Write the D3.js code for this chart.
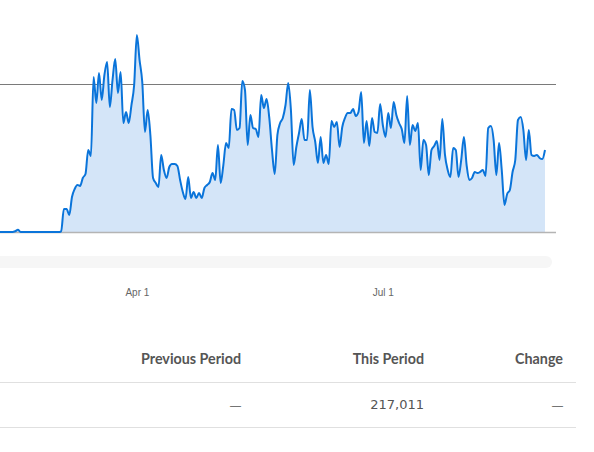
<!DOCTYPE html>
<html>
<head>
<meta charset="utf-8">
<script src="https://cdn.jsdelivr.net/npm/d3@7/dist/d3.min.js"></script>
<style>
  html, body { margin: 0; padding: 0; background: #fff; }
  svg { display: block; }
</style>
</head>
<body>
<svg id="chart" width="594" height="452"></svg>
<script>
// daily visits, one value per day starting at startDay
var startDay = new Date(2020, 1, 10);
var visits = [
  0, 0, 0, 0, 0, 0, 10, 30, 0, 0,
  0, 0, 0, 0, 0, 0, 0, 0, 0, 0,
  0, 0, 0, 10, 311, 311, 230, 473, 581, 635,
  622, 730, 784, 1108, 1027, 2095, 1743, 2149, 1784, 2122,
  2297, 1689, 2054, 2338, 1878, 2162, 1473, 1622, 1473, 1716,
  1987, 2662, 2324, 2027, 1351, 1649, 1311, 730, 662, 608,
  1041, 838, 730, 878, 919, 919, 892, 703, 541, 446,
  743, 459, 541, 459, 527, 459, 595, 635, 676, 797,
  703, 1176, 662, 905, 1203, 1135, 1662, 1649, 1378, 1405,
  2041, 1919, 1176, 1581, 1405, 1392, 1284, 1851, 1676, 1797,
  1541, 1108, 784, 1311, 1473, 1541, 1716, 2014, 1649, 905,
  1149, 1338, 1527, 1243, 1243, 1919, 1419, 1216, 932, 1284,
  932, 1041, 919, 1500, 1419, 1486, 1149, 1419, 1541, 1608,
  1608, 1662, 1568, 1622, 1892, 1203, 1500, 1162, 1541, 1351,
  1338, 1730, 1446, 1284, 1608, 1405, 1757, 1581, 1473, 1392,
  1203, 1838, 1176, 1446, 1365, 1473, 838, 1243, 1176, 770,
  1108, 1162, 1230, 973, 1527, 1041, 838, 743, 1135, 1108,
  743, 973, 1284, 905, 703, 730, 811, 797, 811, 838,
  757, 1405, 1432, 1243, 770, 1203, 838, 365, 514, 568,
  811, 973, 1514, 1554, 1378, 973, 1378, 1041, 1027, 1041,
  1000, 986, 1108
];
var gridValues = [2000];
var tickDates = [new Date(2020, 3, 1), new Date(2020, 6, 1)];

var columns = ["Previous Period", "This Period", "Change"];
var rowValues = ["\u2014", "217,011", "\u2014"];
var columnRight = [241, 424, 563];

var data = visits.map(function(v, i){
  return {date: d3.timeDay.offset(startDay, i), value: v};
});

var svg = d3.select("#chart");

var plotTop = 84, plotBottom = 232, plotRight = 556;

var xScale = d3.scaleTime()
  .domain(d3.extent(data, function(d){ return d.date; }))
  .range([-1, 545]);

var yScale = d3.scaleLinear()
  .domain([0, 2000])
  .range([plotBottom, plotTop]);

// gridline
var grid = svg.append("g")
  .call(d3.axisRight(yScale).tickValues(gridValues).tickSize(plotRight).tickFormat(""));
grid.select(".domain").remove();
grid.selectAll(".tick line").attr("stroke", "#7a7a7a").attr("stroke-width", 1);

var area = d3.area()
  .curve(d3.curveMonotoneX)
  .x(function(d){ return xScale(d.date); })
  .y0(yScale(0))
  .y1(function(d){ return yScale(d.value); });

var line = d3.line()
  .curve(d3.curveMonotoneX)
  .x(function(d){ return xScale(d.date); })
  .y(function(d){ return yScale(d.value); });

svg.append("path")
  .datum(data)
  .attr("d", area)
  .attr("fill", "#d4e5f8");

// baseline
svg.append("line")
  .attr("x1", 0).attr("x2", plotRight)
  .attr("y1", yScale(0) + 0.5).attr("y2", yScale(0) + 0.5)
  .attr("stroke", "#b4b4b4")
  .attr("stroke-width", 1.5);

svg.append("path")
  .datum(data)
  .attr("d", line)
  .attr("fill", "none")
  .attr("stroke", "#0a74da")
  .attr("stroke-width", 2)
  .attr("stroke-linejoin", "round");

// scroll track under the chart
svg.append("rect")
  .attr("x", -10).attr("y", 256)
  .attr("width", 562).attr("height", 12)
  .attr("rx", 6)
  .attr("fill", "#f6f6f6");

// month labels
var xAxis = svg.append("g")
  .attr("transform", "translate(0,286)")
  .call(d3.axisBottom(xScale).tickValues(tickDates).tickSize(0).tickFormat(d3.timeFormat("%b %-d")));
xAxis.select(".domain").remove();
xAxis.selectAll("text")
  .attr("fill", "#666")
  .style("font-family", "'Liberation Sans', Arial, sans-serif")
  .style("font-size", "10px");

// table
var table = svg.append("g");
table.selectAll("text.head")
  .data(columns)
  .enter()
  .append("text")
    .attr("class", "head")
    .attr("x", function(d, i){ return columnRight[i]; })
    .attr("y", 364)
    .attr("text-anchor", "end")
    .attr("fill", "#555")
    .style("font-family", "Lato, sans-serif")
    .style("font-weight", "bold")
    .style("font-size", "14.3px")
    .text(function(d){ return d; });

table.selectAll("text.cell")
  .data(rowValues)
  .enter()
  .append("text")
    .attr("class", "cell")
    .attr("x", function(d, i){ return columnRight[i]; })
    .attr("y", 409)
    .attr("text-anchor", "end")
    .attr("fill", "#555")
    .style("font-family", function(d){ return d === "\u2014" ? "'Liberation Sans', sans-serif" : "'DejaVu Sans', sans-serif"; })
    .style("font-size", function(d){ return d === "\u2014" ? "11px" : "13px"; })
    .text(function(d){ return d; });

[382, 427].forEach(function(y){
  table.append("line")
    .attr("x1", 0).attr("x2", 576)
    .attr("y1", y + 0.5).attr("y2", y + 0.5)
    .attr("stroke", "#e0e0e0");
});
</script>
</body>
</html>
